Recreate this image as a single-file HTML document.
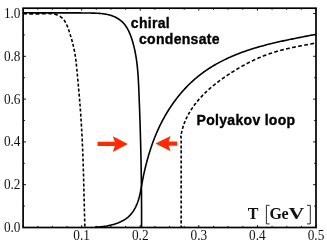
<!DOCTYPE html>
<html><head><meta charset="utf-8"><style>
html,body{margin:0;padding:0;background:#fff;}
body{width:327px;height:245px;overflow:hidden;}
svg{display:block;}
.lab text{font-family:"Liberation Serif",serif;font-size:13.3px;fill:#111;}
.bold{font-family:"Liberation Sans",sans-serif;font-weight:bold;font-size:14px;letter-spacing:0.3px;fill:#000;stroke:#000;stroke-width:0.35px;}
</style></head><body>
<svg width="327" height="245" viewBox="0 0 327 245">
<rect width="327" height="245" fill="#fff"/>
<g fill="none" stroke="#000" stroke-width="1.6" stroke-linecap="butt" stroke-linejoin="round">
<path d="M22.95 12.76 L24.02 12.78 L25.09 12.79 L26.15 12.80 L27.22 12.81 L28.28 12.81 L29.33 12.82 L30.39 12.83 L31.44 12.83 L32.49 12.84 L33.54 12.84 L34.58 12.85 L35.62 12.85 L36.66 12.85 L37.70 12.86 L38.74 12.86 L39.77 12.86 L40.80 12.86 L41.84 12.86 L42.87 12.86 L43.89 12.86 L44.92 12.86 L45.95 12.86 L46.97 12.86 L48.00 12.86 L49.02 12.86 L50.04 12.85 L51.06 12.85 L52.09 12.85 L53.11 12.85 L54.13 12.85 L55.15 12.85 L56.17 12.84 L57.19 12.84 L58.21 12.84 L59.23 12.84 L60.25 12.84 L61.27 12.84 L62.29 12.84 L63.31 12.84 L64.33 12.84 L65.36 12.84 L66.38 12.84 L67.41 12.84 L68.43 12.84 L69.46 12.85 L70.49 12.85 L71.52 12.85 L72.55 12.86 L73.59 12.86 L74.62 12.87 L75.66 12.87 L76.70 12.88 L77.74 12.89 L78.78 12.90 L79.83 12.91 L80.87 12.92 L81.92 12.93 L82.98 12.94 L84.03 12.95 L85.09 12.97 L86.15 12.98 L87.21 13.00 L88.28 13.02 L89.35 13.04 L90.42 13.06 L91.50 13.08 L92.57 13.10 L93.65 13.13 L94.73 13.17 L95.81 13.21 L96.89 13.26 L97.97 13.32 L99.04 13.39 L100.11 13.47 L101.17 13.57 L102.23 13.68 L103.28 13.80 L104.33 13.95 L105.37 14.11 L106.40 14.29 L107.42 14.50 L108.42 14.72 L109.42 14.97 L110.41 15.25 L111.38 15.55 L112.34 15.88 L113.28 16.24 L114.21 16.62 L115.12 17.04 L116.02 17.48 L116.89 17.96 L117.75 18.46 L118.59 18.99 L119.41 19.55 L120.20 20.14 L120.97 20.76 L121.72 21.40 L122.44 22.08 L123.14 22.78 L123.81 23.51 L124.46 24.27 L125.08 25.06 L125.67 25.87 L126.23 26.70 L126.78 27.56 L127.30 28.44 L127.80 29.34 L128.28 30.25 L128.73 31.19 L129.17 32.13 L129.59 33.09 L130.00 34.06 L130.38 35.05 L130.76 36.04 L131.11 37.03 L131.46 38.04 L131.79 39.04 L132.11 40.05 L132.42 41.06 L132.72 42.07 L133.01 43.08 L133.29 44.10 L133.56 45.11 L133.82 46.13 L134.07 47.14 L134.31 48.16 L134.54 49.18 L134.76 50.20 L134.98 51.22 L135.18 52.24 L135.38 53.27 L135.57 54.29 L135.75 55.31 L135.93 56.34 L136.10 57.36 L136.26 58.39 L136.41 59.42 L136.56 60.44 L136.70 61.47 L136.83 62.50 L136.96 63.53 L137.08 64.56 L137.20 65.59 L137.31 66.63 L137.42 67.66 L137.52 68.69 L137.61 69.72 L137.70 70.76 L137.79 71.79 L137.87 72.83 L137.95 73.86 L138.03 74.90 L138.10 75.93 L138.17 76.97 L138.23 78.00 L138.29 79.04 L138.35 80.08 L138.41 81.11 L138.47 82.15 L138.52 83.19 L138.57 84.22 L138.62 85.26 L138.66 86.30 L138.71 87.34 L138.76 88.38 L138.80 89.41 L138.84 90.45 L138.89 91.49 L138.93 92.53 L138.97 93.56 L139.01 94.60 L139.06 95.64 L139.10 96.68 L139.14 97.71 L139.18 98.75 L139.22 99.79 L139.26 100.83 L139.30 101.86 L139.34 102.90 L139.38 103.94 L139.42 104.98 L139.46 106.01 L139.50 107.05 L139.54 108.09 L139.57 109.12 L139.61 110.16 L139.65 111.20 L139.69 112.24 L139.72 113.27 L139.76 114.31 L139.79 115.35 L139.83 116.38 L139.87 117.42 L139.90 118.46 L139.93 119.49 L139.97 120.53 L140.00 121.57 L140.04 122.60 L140.07 123.64 L140.10 124.68 L140.14 125.71 L140.17 126.75 L140.20 127.79 L140.23 128.83 L140.26 129.86 L140.29 130.90 L140.32 131.94 L140.35 132.97 L140.38 134.01 L140.41 135.05 L140.44 136.08 L140.47 137.12 L140.50 138.16 L140.53 139.19 L140.56 140.23 L140.58 141.27 L140.61 142.30 L140.64 143.34 L140.66 144.38 L140.69 145.41 L140.72 146.45 L140.74 147.49 L140.77 148.52 L140.79 149.56 L140.81 150.60 L140.84 151.63 L140.86 152.67 L140.88 153.71 L140.91 154.74 L140.93 155.78 L140.95 156.82 L140.97 157.85 L140.99 158.89 L141.02 159.93 L141.04 160.96 L141.06 162.00 L141.08 163.04 L141.10 164.08 L141.11 165.11 L141.13 166.15 L141.15 167.19 L141.17 168.22 L141.19 169.26 L141.20 170.30 L141.22 171.33 L141.24 172.37 L141.25 173.41 L141.27 174.45 L141.29 175.48 L141.30 176.52 L141.31 177.56 L141.33 178.60 L141.34 179.63 L141.36 180.67 L141.37 181.71 L141.38 182.75 L141.39 183.78 L141.41 184.82 L141.42 185.86 L141.43 186.90 L141.44 187.93 L141.45 188.97 L141.46 190.01 L141.47 191.05 L141.48 192.08 L141.49 193.12 L141.49 194.16 L141.50 195.20 L141.51 196.24 L141.52 197.28 L141.52 198.31 L141.53 199.35 L141.53 200.39 L141.54 201.43 L141.55 202.47 L141.55 203.51 L141.55 204.54 L141.56 205.58 L141.56 206.62 L141.56 207.66 L141.57 208.70 L141.57 209.74 L141.57 210.78 L141.57 211.82 L141.57 212.85 L141.57 213.89 L141.57 214.93 L141.57 215.97 L141.57 217.01 L141.57 218.05 L141.57 219.09 L141.57 220.13 L141.56 221.17 L141.56 222.21 L141.56 223.25 L141.55 224.29 L141.55 225.33 L141.55 226.37 L141.54 227.41"/>
<path d="M94.97 227.16 L95.98 227.13 L97.02 227.09 L98.06 227.03 L99.12 226.96 L100.19 226.87 L101.27 226.77 L102.36 226.65 L103.45 226.52 L104.55 226.37 L105.65 226.20 L106.76 226.02 L107.86 225.81 L108.97 225.59 L110.07 225.35 L111.17 225.09 L112.27 224.81 L113.35 224.51 L114.43 224.19 L115.50 223.85 L116.56 223.49 L117.60 223.10 L118.64 222.69 L119.65 222.26 L120.65 221.81 L121.63 221.33 L122.59 220.83 L123.53 220.30 L124.44 219.75 L125.33 219.17 L126.19 218.57 L127.03 217.94 L127.84 217.28 L128.62 216.60 L129.36 215.89 L130.08 215.15 L130.77 214.39 L131.44 213.61 L132.08 212.80 L132.69 211.98 L133.27 211.13 L133.83 210.26 L134.37 209.38 L134.88 208.47 L135.37 207.55 L135.84 206.61 L136.28 205.66 L136.71 204.70 L137.11 203.72 L137.49 202.72 L137.86 201.72 L138.20 200.71 L138.53 199.68 L138.84 198.65 L139.13 197.61 L139.41 196.56 L139.67 195.50 L139.92 194.44 L140.15 193.38 L140.38 192.31 L140.59 191.24 L140.79 190.16 L140.99 189.09 L141.19 188.01 L141.38 186.93 L141.57 185.85 L141.76 184.77 L141.95 183.70 L142.14 182.62 L142.34 181.55 L142.54 180.48 L142.74 179.41 L142.95 178.35 L143.17 177.28 L143.38 176.22 L143.60 175.16 L143.83 174.11 L144.06 173.05 L144.29 172.00 L144.53 170.95 L144.77 169.89 L145.02 168.85 L145.27 167.80 L145.52 166.75 L145.78 165.71 L146.04 164.66 L146.31 163.62 L146.58 162.58 L146.85 161.54 L147.13 160.50 L147.42 159.46 L147.71 158.42 L148.00 157.39 L148.30 156.35 L148.60 155.32 L148.91 154.29 L149.22 153.26 L149.54 152.23 L149.86 151.20 L150.19 150.18 L150.52 149.16 L150.85 148.13 L151.20 147.11 L151.54 146.10 L151.90 145.08 L152.25 144.07 L152.62 143.05 L152.99 142.04 L153.36 141.04 L153.74 140.03 L154.12 139.03 L154.51 138.02 L154.91 137.03 L155.31 136.03 L155.72 135.03 L156.13 134.04 L156.55 133.05 L156.98 132.06 L157.41 131.08 L157.85 130.09 L158.29 129.11 L158.74 128.14 L159.20 127.16 L159.66 126.19 L160.13 125.22 L160.61 124.25 L161.09 123.29 L161.58 122.33 L162.07 121.37 L162.57 120.41 L163.08 119.46 L163.59 118.51 L164.11 117.56 L164.64 116.62 L165.18 115.68 L165.72 114.74 L166.27 113.81 L166.82 112.88 L167.38 111.96 L167.95 111.03 L168.52 110.12 L169.10 109.20 L169.69 108.29 L170.28 107.39 L170.88 106.48 L171.49 105.59 L172.10 104.69 L172.72 103.80 L173.35 102.92 L173.98 102.04 L174.62 101.17 L175.26 100.30 L175.92 99.43 L176.57 98.57 L177.24 97.71 L177.91 96.86 L178.58 96.02 L179.27 95.18 L179.96 94.35 L180.65 93.52 L181.35 92.69 L182.06 91.88 L182.78 91.07 L183.50 90.26 L184.22 89.46 L184.96 88.67 L185.69 87.88 L186.44 87.10 L187.19 86.32 L187.95 85.55 L188.71 84.79 L189.48 84.04 L190.26 83.29 L191.04 82.54 L191.82 81.81 L192.62 81.08 L193.42 80.36 L194.22 79.64 L195.03 78.94 L195.85 78.24 L196.67 77.54 L197.50 76.86 L198.34 76.18 L199.18 75.51 L200.03 74.85 L200.88 74.19 L201.74 73.54 L202.60 72.90 L203.47 72.27 L204.34 71.65 L205.22 71.03 L206.11 70.42 L207.00 69.81 L207.89 69.22 L208.79 68.63 L209.70 68.04 L210.61 67.47 L211.52 66.90 L212.44 66.34 L213.36 65.78 L214.29 65.24 L215.22 64.69 L216.15 64.16 L217.09 63.63 L218.04 63.11 L218.98 62.60 L219.93 62.09 L220.89 61.59 L221.85 61.09 L222.81 60.60 L223.77 60.12 L224.74 59.65 L225.71 59.18 L226.69 58.71 L227.66 58.26 L228.64 57.81 L229.63 57.36 L230.61 56.92 L231.60 56.49 L232.59 56.06 L233.58 55.64 L234.58 55.23 L235.58 54.82 L236.58 54.41 L237.58 54.02 L238.58 53.63 L239.59 53.24 L240.60 52.86 L241.61 52.48 L242.62 52.11 L243.64 51.75 L244.65 51.39 L245.67 51.03 L246.69 50.68 L247.71 50.33 L248.73 49.99 L249.76 49.66 L250.78 49.33 L251.81 49.00 L252.84 48.68 L253.87 48.36 L254.91 48.04 L255.94 47.73 L256.98 47.43 L258.01 47.13 L259.05 46.83 L260.09 46.53 L261.13 46.24 L262.17 45.96 L263.22 45.67 L264.26 45.40 L265.30 45.12 L266.35 44.85 L267.40 44.58 L268.45 44.31 L269.50 44.05 L270.55 43.79 L271.60 43.53 L272.65 43.28 L273.70 43.03 L274.75 42.78 L275.81 42.53 L276.86 42.29 L277.92 42.05 L278.97 41.81 L280.03 41.57 L281.08 41.34 L282.14 41.10 L283.20 40.87 L284.26 40.65 L285.32 40.42 L286.37 40.20 L287.43 39.97 L288.49 39.75 L289.55 39.53 L290.61 39.31 L291.67 39.10 L292.73 38.88 L293.79 38.67 L294.85 38.45 L295.91 38.24 L296.96 38.03 L298.02 37.82 L299.08 37.61 L300.14 37.40 L301.20 37.19 L302.26 36.98 L303.31 36.78 L304.37 36.57 L305.43 36.36 L306.48 36.16 L307.54 35.95 L308.60 35.75 L309.65 35.54 L310.70 35.33 L311.76 35.13 L312.81 34.92 L313.86 34.71 L314.91 34.50 L315.96 34.30"/>
<path d="M23.01 13.76 L23.52 13.77 L24.04 13.78 L24.55 13.79 L25.06 13.80 L25.57 13.81 L26.08 13.82 L26.59 13.83 L26.84 13.83 M29.35 13.87 L29.85 13.87 L30.35 13.88 L30.85 13.89 L31.35 13.89 L31.85 13.89 L32.34 13.90 L32.84 13.90 L33.09 13.90 M35.58 13.89 L36.08 13.89 L36.58 13.88 L37.08 13.88 L37.58 13.87 L38.08 13.86 L38.58 13.85 L39.09 13.84 L39.34 13.83 M41.76 13.76 L42.27 13.74 L42.79 13.71 L43.30 13.69 L43.82 13.67 L44.34 13.65 L44.86 13.63 L45.38 13.61 L45.64 13.60 M48.10 13.55 L48.62 13.56 L49.14 13.57 L49.65 13.58 L50.17 13.60 L50.68 13.63 L51.19 13.67 L51.70 13.72 L51.82 13.73 M54.20 14.09 L54.69 14.20 L55.17 14.32 L55.65 14.45 L56.13 14.60 L56.60 14.75 L57.07 14.92 L57.53 15.10 L57.75 15.20 M59.82 16.25 L60.23 16.51 L60.63 16.77 L61.02 17.06 L61.40 17.35 L61.77 17.66 L62.13 17.98 L62.48 18.31 L62.57 18.39 M63.99 20.05 L64.28 20.44 L64.56 20.85 L64.83 21.26 L65.10 21.68 L65.35 22.11 L65.60 22.55 L65.66 22.66 M66.58 24.49 L66.79 24.96 L67.00 25.44 L67.20 25.92 L67.39 26.40 L67.59 26.89 L67.77 27.38 L67.77 27.38 M68.49 29.35 L68.66 29.85 L68.83 30.35 L68.99 30.85 L69.16 31.34 L69.32 31.84 L69.44 32.21 M70.08 34.18 L70.23 34.67 L70.38 35.16 L70.54 35.64 L70.69 36.13 L70.83 36.62 L70.98 37.11 L70.98 37.11 M71.55 39.05 L71.69 39.53 L71.83 40.02 L71.96 40.50 L72.09 40.98 L72.22 41.47 L72.35 41.95 L72.35 41.95 M72.86 43.89 L72.98 44.37 L73.09 44.85 L73.21 45.34 L73.33 45.82 L73.44 46.31 L73.55 46.79 L73.55 46.79 M73.98 48.74 L74.08 49.23 L74.18 49.72 L74.27 50.21 L74.37 50.70 L74.46 51.19 L74.56 51.68 L74.58 51.81 M74.92 53.78 L75.01 54.28 L75.09 54.77 L75.17 55.27 L75.24 55.77 L75.32 56.27 L75.39 56.76 L75.39 56.76 M75.67 58.76 L75.74 59.26 L75.81 59.77 L75.87 60.27 L75.94 60.77 L76.00 61.27 L76.06 61.78 L76.06 61.78 M76.28 63.67 L76.33 64.17 L76.39 64.68 L76.44 65.18 L76.50 65.69 L76.55 66.19 L76.60 66.70 L76.60 66.70 M76.81 68.72 L76.85 69.23 L76.90 69.74 L76.95 70.24 L77.00 70.75 L77.05 71.26 L77.08 71.64 M77.27 73.66 L77.31 74.17 L77.36 74.68 L77.40 75.18 L77.45 75.69 L77.49 76.20 L77.54 76.70 L77.54 76.70 M77.71 78.60 L77.76 79.10 L77.80 79.61 L77.85 80.11 L77.89 80.62 L77.94 81.12 L77.99 81.63 L77.99 81.63 M78.17 83.64 L78.22 84.15 L78.26 84.65 L78.31 85.16 L78.35 85.66 L78.40 86.16 L78.45 86.67 L78.45 86.67 M78.62 88.55 L78.66 89.06 L78.71 89.56 L78.75 90.06 L78.80 90.56 L78.84 91.07 L78.89 91.57 L78.89 91.57 M79.07 93.58 L79.11 94.08 L79.16 94.58 L79.20 95.09 L79.24 95.59 L79.29 96.09 L79.33 96.60 L79.33 96.60 M79.50 98.61 L79.54 99.11 L79.59 99.61 L79.63 100.11 L79.67 100.62 L79.71 101.12 L79.75 101.62 L79.75 101.62 M79.91 103.64 L79.95 104.14 L79.99 104.64 L80.03 105.15 L80.07 105.65 L80.11 106.15 L80.14 106.53 M80.29 108.55 L80.33 109.05 L80.37 109.55 L80.40 110.06 L80.44 110.56 L80.48 111.06 L80.51 111.57 L80.51 111.57 M80.65 113.58 L80.69 114.09 L80.72 114.59 L80.76 115.10 L80.79 115.60 L80.83 116.11 L80.86 116.61 L80.86 116.61 M80.99 118.50 L81.02 119.01 L81.05 119.51 L81.09 120.01 L81.12 120.52 L81.15 121.02 L81.18 121.53 L81.18 121.53 M81.31 123.55 L81.34 124.05 L81.37 124.56 L81.40 125.06 L81.43 125.57 L81.46 126.07 L81.49 126.58 L81.49 126.58 M81.61 128.60 L81.63 129.10 L81.66 129.61 L81.69 130.11 L81.72 130.62 L81.75 131.12 L81.77 131.50 M81.88 133.52 L81.90 134.02 L81.93 134.53 L81.96 135.04 L81.98 135.54 L82.01 136.05 L82.04 136.55 L82.04 136.55 M82.14 138.57 L82.16 139.08 L82.19 139.58 L82.21 140.09 L82.24 140.59 L82.26 141.10 L82.28 141.60 L82.28 141.60 M82.37 143.50 L82.40 144.00 L82.42 144.51 L82.44 145.02 L82.46 145.52 L82.49 146.03 L82.51 146.53 L82.51 146.53 M82.60 148.55 L82.62 149.06 L82.64 149.56 L82.66 150.07 L82.68 150.58 L82.70 151.08 L82.72 151.59 L82.72 151.59 M82.80 153.48 L82.82 153.99 L82.84 154.49 L82.86 155.00 L82.88 155.50 L82.90 156.01 L82.92 156.52 L82.92 156.52 M82.99 158.54 L83.01 159.04 L83.03 159.55 L83.04 160.05 L83.06 160.56 L83.08 161.06 L83.10 161.57 L83.10 161.57 M83.16 163.47 L83.18 163.97 L83.20 164.48 L83.21 164.98 L83.23 165.49 L83.24 165.99 L83.26 166.50 L83.26 166.50 M83.32 168.52 L83.34 169.02 L83.35 169.53 L83.37 170.03 L83.38 170.54 L83.40 171.04 L83.41 171.55 L83.41 171.55 M83.47 173.57 L83.49 174.08 L83.50 174.58 L83.52 175.09 L83.53 175.59 L83.54 176.10 L83.55 176.48 M83.61 178.50 L83.62 179.00 L83.64 179.51 L83.65 180.01 L83.66 180.52 L83.68 181.02 L83.69 181.53 L83.69 181.53 M83.74 183.55 L83.75 184.05 L83.77 184.56 L83.78 185.06 L83.79 185.57 L83.80 186.07 L83.82 186.58 L83.82 186.58 M83.86 188.47 L83.87 188.98 L83.89 189.48 L83.90 189.99 L83.91 190.49 L83.92 191.00 L83.94 191.50 L83.94 191.50 M83.99 193.52 L84.00 194.03 L84.01 194.53 L84.02 195.04 L84.03 195.55 L84.05 196.05 L84.06 196.56 L84.06 196.56 M84.10 198.45 L84.12 198.96 L84.13 199.46 L84.14 199.97 L84.15 200.47 L84.17 200.98 L84.18 201.48 L84.18 201.48 M84.23 203.50 L84.24 204.01 L84.25 204.51 L84.26 205.02 L84.28 205.52 L84.29 206.03 L84.30 206.54 L84.30 206.54 M84.35 208.56 L84.37 209.06 L84.38 209.57 L84.39 210.07 L84.41 210.58 L84.42 211.09 L84.43 211.59 L84.43 211.59 M84.48 213.49 L84.50 213.99 L84.51 214.50 L84.53 215.00 L84.54 215.51 L84.55 216.02 L84.57 216.52 L84.57 216.52 M84.63 218.54 L84.64 219.05 L84.66 219.56 L84.67 220.06 L84.69 220.57 L84.70 221.07 L84.72 221.58 L84.72 221.58 M84.77 223.48 L84.79 223.98 L84.81 224.49 L84.82 225.00 L84.84 225.50 L84.86 226.01 L84.87 226.51 L84.87 226.51"/>
<path d="M181.15 227.50 L181.15 227.05 L181.15 226.59 L181.15 226.14 L181.15 225.69 L181.15 225.46 M181.15 223.42 L181.15 222.97 L181.15 222.52 L181.15 222.06 L181.15 221.61 L181.15 221.16 L181.15 220.70 L181.15 220.36 M181.15 218.44 L181.15 217.99 L181.15 217.53 L181.15 217.08 L181.15 216.63 L181.15 216.17 L181.15 215.72 L181.15 215.38 M181.15 213.45 L181.15 213.00 L181.15 212.55 L181.15 212.10 L181.15 211.64 L181.15 211.19 L181.15 210.74 L181.15 210.40 M181.15 208.47 L181.15 208.02 L181.15 207.57 L181.15 207.11 L181.15 206.66 L181.15 206.21 L181.15 205.75 L181.15 205.41 M181.15 203.49 L181.15 203.03 L181.15 202.58 L181.15 202.13 L181.15 201.68 L181.15 201.22 L181.15 200.77 L181.15 200.43 M181.15 198.39 L181.15 197.94 L181.15 197.48 L181.15 197.03 L181.15 196.58 L181.15 196.13 L181.15 195.67 L181.15 195.45 M181.15 193.41 L181.15 192.95 L181.15 192.50 L181.15 192.05 L181.15 191.59 L181.15 191.14 L181.15 190.69 L181.15 190.46 M181.15 188.42 L181.15 187.97 L181.15 187.52 L181.15 187.06 L181.15 186.61 L181.15 186.16 L181.15 185.70 L181.15 185.36 M181.15 183.44 L181.15 182.99 L181.15 182.53 L181.15 182.08 L181.15 181.63 L181.15 181.17 L181.15 180.72 L181.15 180.38 M181.15 178.46 L181.15 178.00 L181.15 177.55 L181.15 177.10 L181.15 176.64 L181.15 176.19 L181.15 175.74 L181.15 175.40 M181.15 173.47 L181.15 173.02 L181.15 172.57 L181.15 172.11 L181.15 171.66 L181.15 171.21 L181.15 170.75 L181.15 170.41 M181.15 168.49 L181.15 168.04 L181.15 167.58 L181.15 167.13 L181.15 166.68 L181.15 166.22 L181.15 165.77 L181.15 165.43 M181.15 163.39 L181.15 162.94 L181.15 162.48 L181.15 162.03 L181.15 161.58 L181.15 161.13 L181.15 160.67 L181.15 160.45 M181.15 158.41 L181.15 157.95 L181.15 157.50 L181.15 157.05 L181.15 156.60 L181.15 156.14 L181.15 155.69 L181.15 155.46 M181.15 153.42 L181.15 152.97 L181.15 152.52 L181.15 152.06 L181.15 151.61 L181.15 151.16 L181.15 150.71 L181.15 150.37 M181.15 148.44 L181.15 147.99 L181.15 147.53 L181.15 147.08 L181.15 146.63 L181.15 146.17 L181.15 145.72 L181.15 145.38 M181.15 143.46 L181.15 143.00 L181.15 142.55 L181.15 142.10 L181.15 141.64 L181.15 141.19 L181.15 140.74 L181.15 140.40 M181.15 138.47 L181.15 138.02 L181.15 137.57 L181.15 137.11 L180.73 136.74 L180.79 136.38 L180.85 136.03 L180.91 135.67 L180.91 135.67 M181.26 133.81 L181.33 133.46 L181.40 133.11 L181.48 132.76 L181.55 132.41 L181.63 132.07 L181.71 131.72 L181.79 131.37 L181.88 131.03 L181.94 130.77 M182.44 128.89 L182.54 128.55 L182.64 128.22 L182.74 127.88 L182.84 127.54 L182.94 127.21 L183.05 126.87 L183.15 126.54 L183.26 126.21 L183.37 125.87 L183.37 125.87 M184.00 124.06 L184.12 123.74 L184.25 123.41 L184.37 123.09 L184.49 122.76 L184.62 122.44 L184.75 122.12 L184.88 121.80 L185.01 121.48 L185.14 121.16 L185.18 121.08 M185.97 119.25 L186.11 118.94 L186.26 118.63 L186.41 118.31 L186.55 118.00 L186.70 117.69 L186.85 117.38 L187.01 117.07 L187.16 116.76 L187.31 116.46 L187.35 116.38 M188.27 114.63 L188.44 114.33 L188.61 114.02 L188.77 113.72 L188.94 113.42 L189.11 113.12 L189.28 112.83 L189.46 112.53 L189.63 112.23 L189.81 111.94 L189.85 111.86 M190.93 110.10 L191.12 109.81 L191.31 109.52 L191.49 109.24 L191.68 108.95 L191.87 108.66 L192.06 108.37 L192.26 108.09 L192.45 107.80 L192.64 107.52 L192.74 107.38 M193.94 105.69 L194.14 105.41 L194.35 105.13 L194.56 104.86 L194.76 104.58 L194.97 104.30 L195.18 104.03 L195.39 103.75 L195.60 103.48 L195.82 103.21 L195.92 103.07 M197.23 101.45 L197.45 101.18 L197.67 100.92 L197.89 100.65 L198.12 100.39 L198.34 100.12 L198.57 99.86 L198.80 99.59 L199.03 99.33 L199.26 99.07 L199.37 98.94 M200.77 97.38 L201.01 97.13 L201.24 96.87 L201.48 96.62 L201.72 96.36 L201.96 96.11 L202.20 95.85 L202.45 95.60 L202.69 95.35 L202.93 95.10 L203.12 94.91 M204.60 93.42 L204.85 93.18 L205.10 92.93 L205.36 92.69 L205.61 92.44 L205.86 92.20 L206.12 91.96 L206.37 91.71 L206.63 91.47 L206.89 91.23 L207.08 91.05 M208.64 89.62 L208.90 89.39 L209.17 89.15 L209.43 88.92 L209.70 88.68 L209.96 88.45 L210.23 88.22 L210.49 87.99 L210.76 87.75 L211.03 87.52 L211.23 87.35 M212.93 85.92 L213.20 85.70 L213.48 85.47 L213.75 85.25 L214.03 85.03 L214.30 84.80 L214.58 84.58 L214.85 84.36 L215.13 84.14 L215.41 83.91 L215.62 83.75 M217.30 82.44 L217.58 82.22 L217.87 82.01 L218.15 81.79 L218.43 81.58 L218.72 81.36 L219.00 81.15 L219.29 80.94 L219.57 80.72 L219.86 80.51 L220.14 80.30 L220.14 80.30 M221.94 78.99 L222.23 78.79 L222.52 78.58 L222.81 78.37 L223.10 78.17 L223.39 77.96 L223.69 77.76 L223.98 77.55 L224.27 77.35 L224.56 77.15 L224.78 77.00 M226.62 75.74 L226.91 75.55 L227.21 75.35 L227.50 75.15 L227.80 74.95 L228.09 74.76 L228.39 74.56 L228.68 74.37 L228.98 74.17 L229.28 73.98 L229.57 73.78 L229.57 73.78 M231.43 72.59 L231.73 72.40 L232.03 72.21 L232.33 72.02 L232.63 71.83 L232.92 71.64 L233.22 71.45 L233.52 71.27 L233.82 71.08 L234.12 70.90 L234.42 70.71 L234.49 70.66 M236.37 69.52 L236.67 69.34 L236.97 69.16 L237.28 68.98 L237.58 68.80 L237.88 68.62 L238.18 68.44 L238.48 68.26 L238.78 68.08 L239.09 67.91 L239.39 67.73 L239.47 67.69 M241.44 66.56 L241.74 66.38 L242.05 66.21 L242.35 66.04 L242.66 65.87 L242.96 65.70 L243.27 65.53 L243.57 65.36 L243.88 65.20 L244.18 65.03 L244.49 64.86 L244.64 64.78 M246.64 63.71 L246.95 63.55 L247.26 63.39 L247.57 63.23 L247.87 63.07 L248.18 62.91 L248.49 62.75 L248.80 62.59 L249.11 62.44 L249.42 62.28 L249.73 62.12 L249.81 62.08 M251.91 61.05 L252.22 60.90 L252.53 60.75 L252.85 60.60 L253.16 60.45 L253.47 60.30 L253.79 60.15 L254.10 60.00 L254.41 59.86 L254.73 59.71 L255.04 59.56 L255.20 59.49 M257.33 58.53 L257.65 58.39 L257.97 58.25 L258.28 58.11 L258.60 57.98 L258.92 57.84 L259.24 57.70 L259.56 57.57 L259.87 57.43 L260.19 57.30 L260.51 57.16 L260.67 57.10 M262.84 56.22 L263.16 56.09 L263.48 55.96 L263.80 55.84 L264.13 55.71 L264.45 55.58 L264.77 55.46 L265.09 55.34 L265.42 55.21 L265.74 55.09 L266.07 54.97 L266.31 54.88 M268.51 54.08 L268.84 53.97 L269.17 53.86 L269.49 53.74 L269.82 53.63 L270.15 53.52 L270.48 53.41 L270.81 53.29 L271.14 53.18 L271.47 53.08 L271.80 52.97 L272.05 52.89 M274.29 52.18 L274.62 52.08 L274.95 51.98 L275.29 51.88 L275.62 51.78 L275.95 51.68 L276.29 51.58 L276.62 51.48 L276.96 51.38 L277.29 51.29 L277.63 51.19 L277.88 51.12 M280.16 50.49 L280.49 50.40 L280.83 50.31 L281.17 50.22 L281.51 50.13 L281.85 50.04 L282.19 49.96 L282.53 49.87 L282.87 49.78 L283.21 49.70 L283.54 49.61 L283.80 49.55 M286.10 48.98 L286.44 48.90 L286.79 48.82 L287.13 48.74 L287.47 48.66 L287.81 48.58 L288.15 48.50 L288.50 48.42 L288.84 48.35 L289.18 48.27 L289.53 48.19 L289.78 48.13 M292.11 47.62 L292.45 47.55 L292.80 47.47 L293.14 47.40 L293.49 47.33 L293.83 47.26 L294.18 47.18 L294.52 47.11 L294.87 47.04 L295.21 46.97 L295.56 46.90 L295.82 46.84 M298.15 46.37 L298.50 46.30 L298.85 46.23 L299.19 46.17 L299.54 46.10 L299.89 46.03 L300.23 45.96 L300.58 45.89 L300.93 45.83 L301.27 45.76 L301.62 45.69 L301.88 45.64 M304.22 45.19 L304.57 45.13 L304.92 45.06 L305.26 45.00 L305.61 44.93 L305.96 44.87 L306.30 44.80 L306.65 44.74 L307.00 44.67 L307.35 44.61 L307.69 44.54 L307.95 44.49 M310.30 44.06 L310.64 43.99 L310.99 43.93 L311.34 43.86 L311.68 43.80 L312.03 43.73 L312.38 43.67 L312.72 43.60 L313.07 43.54 L313.42 43.47 L313.76 43.41 L314.11 43.35 L314.11 43.35"/>
</g>
<rect x="23.10" y="8.20" width="292.90" height="219.30" fill="none" stroke="#000" stroke-width="1.7"/>
<g stroke="#000" stroke-width="0.9" fill="none"><path d="M23.10 227.50 v-2.40 M23.10 8.20 v2.40"/><path d="M37.75 227.50 v-1.60 M37.75 8.20 v1.60"/><path d="M52.39 227.50 v-1.60 M52.39 8.20 v1.60"/><path d="M67.03 227.50 v-1.60 M67.03 8.20 v1.60"/><path d="M81.68 227.50 v-2.40 M81.68 8.20 v2.40"/><path d="M96.32 227.50 v-1.60 M96.32 8.20 v1.60"/><path d="M110.97 227.50 v-1.60 M110.97 8.20 v1.60"/><path d="M125.61 227.50 v-1.60 M125.61 8.20 v1.60"/><path d="M140.26 227.50 v-2.40 M140.26 8.20 v2.40"/><path d="M154.91 227.50 v-1.60 M154.91 8.20 v1.60"/><path d="M169.55 227.50 v-1.60 M169.55 8.20 v1.60"/><path d="M184.19 227.50 v-1.60 M184.19 8.20 v1.60"/><path d="M198.84 227.50 v-2.40 M198.84 8.20 v2.40"/><path d="M213.48 227.50 v-1.60 M213.48 8.20 v1.60"/><path d="M228.13 227.50 v-1.60 M228.13 8.20 v1.60"/><path d="M242.78 227.50 v-1.60 M242.78 8.20 v1.60"/><path d="M257.42 227.50 v-2.40 M257.42 8.20 v2.40"/><path d="M272.06 227.50 v-1.60 M272.06 8.20 v1.60"/><path d="M286.71 227.50 v-1.60 M286.71 8.20 v1.60"/><path d="M301.36 227.50 v-1.60 M301.36 8.20 v1.60"/><path d="M316.00 227.50 v-2.40 M316.00 8.20 v2.40"/><path d="M23.10 227.50 h2.90 M316.00 227.50 h-2.90"/><path d="M23.10 206.10 h1.80 M316.00 206.10 h-1.80"/><path d="M23.10 184.70 h2.90 M316.00 184.70 h-2.90"/><path d="M23.10 163.30 h1.80 M316.00 163.30 h-1.80"/><path d="M23.10 141.90 h2.90 M316.00 141.90 h-2.90"/><path d="M23.10 120.50 h1.80 M316.00 120.50 h-1.80"/><path d="M23.10 99.10 h2.90 M316.00 99.10 h-2.90"/><path d="M23.10 77.70 h1.80 M316.00 77.70 h-1.80"/><path d="M23.10 56.30 h2.90 M316.00 56.30 h-2.90"/><path d="M23.10 34.90 h1.80 M316.00 34.90 h-1.80"/><path d="M23.10 13.50 h2.90 M316.00 13.50 h-2.90"/></g>
<g style="filter:grayscale(1)"><g class="lab"><text transform="translate(81.68,239.6) scale(1,1.1)" text-anchor="middle">0.1</text><text transform="translate(140.26,239.6) scale(1,1.1)" text-anchor="middle">0.2</text><text transform="translate(198.84,239.6) scale(1,1.1)" text-anchor="middle">0.3</text><text transform="translate(257.42,239.6) scale(1,1.1)" text-anchor="middle">0.4</text><text transform="translate(316.00,239.6) scale(1,1.1)" text-anchor="middle">0.5</text><text transform="translate(20.5,231.90) scale(1,1.1)" text-anchor="end">0.0</text><text transform="translate(20.5,189.10) scale(1,1.1)" text-anchor="end">0.2</text><text transform="translate(20.5,146.30) scale(1,1.1)" text-anchor="end">0.4</text><text transform="translate(20.5,103.50) scale(1,1.1)" text-anchor="end">0.6</text><text transform="translate(20.5,60.70) scale(1,1.1)" text-anchor="end">0.8</text><text transform="translate(20.5,17.90) scale(1,1.1)" text-anchor="end">1.0</text></g>
<text class="bold" x="130.8" y="27.6">chiral</text>
<text class="bold" x="139.0" y="43.7">condensate</text>
<text class="bold" x="196.6" y="124.8">Polyakov loop</text>
<g style="font-family:'Liberation Serif',serif;font-size:16px;font-weight:bold;fill:#111"><text x="247.7" y="218.6">T</text><text x="269.6" y="218.6">G</text><text x="281.6" y="218.6">e</text><text x="288.6" y="218.6" textLength="15.8" lengthAdjust="spacingAndGlyphs">V</text></g>
<path d="M269.6 205.3 H266.4 V223.9 H269.6 M307.0 205.3 H310.3 V223.9 H307.0" fill="none" stroke="#111" stroke-width="0.9"/></g>
<g fill="#ff2a00">
<path d="M97.5 141.7 H114.8 L112.8 136.3 L127.9 144.0 L112.8 151.9 L114.8 146.0 H97.5 Z"/>
<path d="M177.2 141.6 H168.6 L170.6 135.9 L155.4 143.6 L170.6 151.2 L168.6 145.8 H177.2 Z"/>
</g>
</svg>
</body></html>
